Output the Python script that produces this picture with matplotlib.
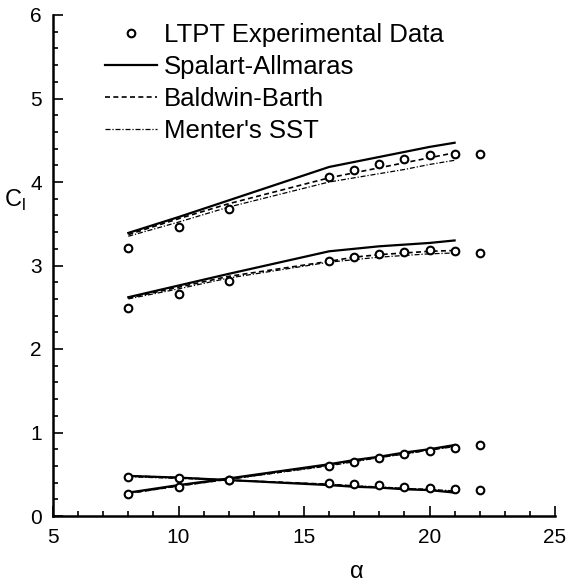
import matplotlib
matplotlib.use("Agg")
import matplotlib.pyplot as plt
from matplotlib.ticker import MultipleLocator

plt.rcParams["font.family"] = ["Liberation Sans", "DejaVu Sans"]

# experimental angles and lift data (four curves: two elements high, two low)
alpha_exp = [8, 10, 12, 16, 17, 18, 19, 20, 21, 22]
exp_total = [3.21, 3.46, 3.68, 4.06, 4.14, 4.21, 4.27, 4.32, 4.34, 4.34]
exp_main = [2.49, 2.66, 2.81, 3.05, 3.10, 3.14, 3.16, 3.19, 3.17, 3.15]
exp_flap_up = [0.26, 0.35, 0.43, 0.60, 0.65, 0.69, 0.74, 0.78, 0.81, 0.85]
exp_flap_dn = [0.47, 0.45, 0.43, 0.40, 0.38, 0.37, 0.35, 0.34, 0.32, 0.31]

# computed angles
alpha_cfd = [8, 10, 12, 16, 17, 18, 19, 20, 21]

sa_total = [3.39, 3.58, 3.78, 4.18, 4.24, 4.30, 4.36, 4.42, 4.47]
sa_main = [2.62, 2.76, 2.90, 3.17, 3.20, 3.23, 3.25, 3.27, 3.30]
sa_up = [0.28, 0.37, 0.45, 0.62, 0.67, 0.71, 0.76, 0.80, 0.85]
sa_dn = [0.48, 0.46, 0.43, 0.37, 0.35, 0.34, 0.32, 0.31, 0.28]

bb_total = [3.37, 3.56, 3.74, 4.05, 4.11, 4.17, 4.23, 4.29, 4.35]
bb_main = [2.61, 2.74, 2.87, 3.05, 3.10, 3.13, 3.15, 3.17, 3.18]
bb_up = [0.27, 0.36, 0.44, 0.61, 0.66, 0.70, 0.75, 0.79, 0.84]
bb_dn = [0.48, 0.46, 0.43, 0.38, 0.36, 0.34, 0.33, 0.31, 0.29]

sst_total = [3.35, 3.52, 3.70, 4.00, 4.05, 4.10, 4.15, 4.21, 4.26]
sst_main = [2.60, 2.72, 2.85, 3.04, 3.07, 3.10, 3.12, 3.14, 3.15]
sst_up = [0.27, 0.36, 0.44, 0.60, 0.65, 0.70, 0.74, 0.79, 0.83]
sst_dn = [0.47, 0.45, 0.43, 0.38, 0.36, 0.35, 0.33, 0.32, 0.30]

fig = plt.figure(figsize=(5.7, 5.84), dpi=100)
ax = fig.add_axes([53 / 570, 68 / 584, 502 / 570, 501 / 584])

for i, (s, b, m) in enumerate([(sa_total, bb_total, sst_total),
                               (sa_main, bb_main, sst_main),
                               (sa_up, bb_up, sst_up),
                               (sa_dn, bb_dn, sst_dn)]):
    ax.plot(alpha_cfd, s, color="black", lw=1.6,
            label="Spalart-Allmaras" if i == 0 else None)
    ax.plot(alpha_cfd, b, color="black", lw=1.2, dashes=(3, 2),
            label="Baldwin-Barth" if i == 0 else None)
    ax.plot(alpha_cfd, m, color="black", lw=0.9, dashes=(4, 1.5, 1, 1.5),
            label="Menter's SST" if i == 0 else None)

for i, ys in enumerate([exp_total, exp_main, exp_flap_up, exp_flap_dn]):
    ax.plot(alpha_exp, ys, "o", ms=5.5, mfc="white", mec="black", mew=1.5,
            label="LTPT Experimental Data" if i == 0 else None)

ax.set_xlim(5, 25)
ax.set_ylim(0, 6)
ax.xaxis.set_major_locator(MultipleLocator(5))
ax.xaxis.set_minor_locator(MultipleLocator(1))
ax.yaxis.set_major_locator(MultipleLocator(1))
ax.yaxis.set_minor_locator(MultipleLocator(0.2))
ax.tick_params(which="both", direction="in", width=1.2, labelsize=15)
ax.tick_params(which="major", length=7)
ax.tick_params(which="minor", length=3.5)
ax.tick_params(axis="y", pad=8)
ax.tick_params(axis="x", pad=8.5)
ax.spines["top"].set_visible(False)
ax.spines["right"].set_visible(False)
ax.spines["left"].set_linewidth(1.8)
ax.spines["bottom"].set_linewidth(1.8)

ax.set_xlabel("\u03b1", fontsize=17, va="center")
ax.xaxis.set_label_coords(0.606, -0.112)
ax.set_ylabel("C$_\\mathregular{l}$", fontsize=17, rotation=0,
              va="center", ha="center")
ax.yaxis.set_label_coords(-0.076, 0.63)

handles, labels = ax.get_legend_handles_labels()
order = [3, 0, 1, 2]
ax.legend([handles[k] for k in order], [labels[k] for k in order],
          loc="upper left", bbox_to_anchor=(0.104, 0.985), frameon=False,
          fontsize=18.5, handlelength=2.0, handletextpad=0.3,
          labelspacing=0.32, borderpad=0, borderaxespad=0)

fig.savefig("out.png", dpi=100)
